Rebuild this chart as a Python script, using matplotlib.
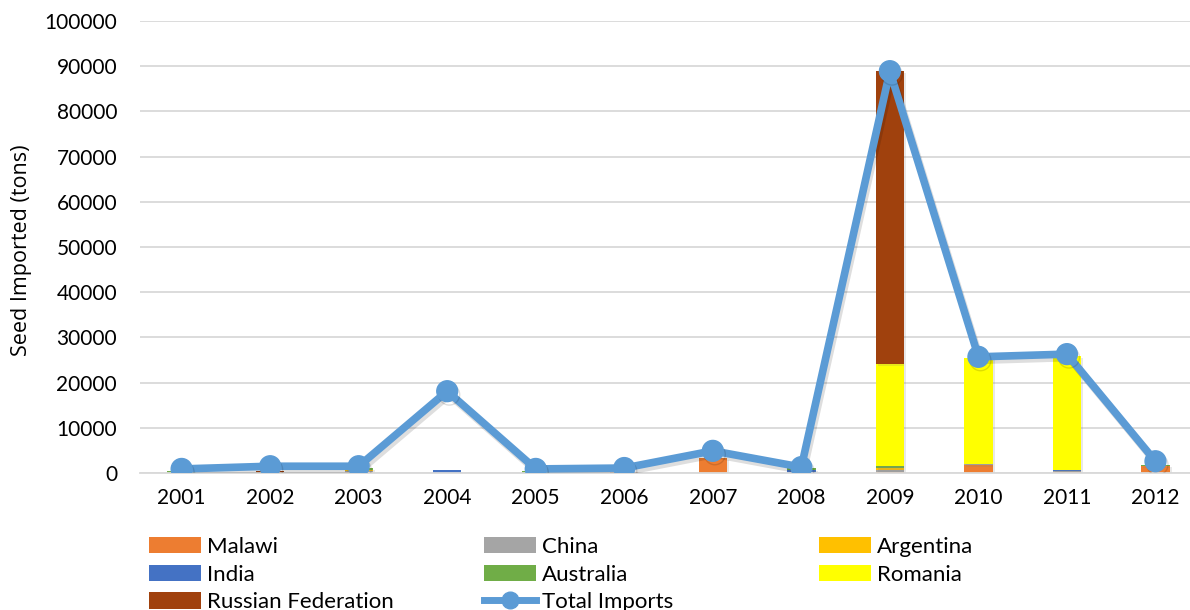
import matplotlib
matplotlib.use("Agg")
import matplotlib.pyplot as plt
import matplotlib.patheffects as pe
from matplotlib.patches import Patch
from matplotlib.lines import Line2D
import numpy as np

plt.rcParams['font.family'] = ['Lato', 'DejaVu Sans']

years = ["2001", "2002", "2003", "2004", "2005", "2006",
         "2007", "2008", "2009", "2010", "2011", "2012"]

# Seed imports by origin (tons)
malawi    = [0, 300, 300, 0, 0, 0, 3400, 0, 300, 1800, 200, 1500]
china     = [0, 0, 100, 0, 0, 100, 0, 100, 300, 300, 200, 0]
argentina = [0, 0, 200, 0, 0, 0, 0, 0, 600, 0, 0, 0]
india     = [100, 0, 0, 700, 0, 0, 0, 600, 0, 0, 200, 0]
australia = [300, 0, 600, 0, 500, 0, 0, 300, 300, 0, 0, 300]
romania   = [0, 0, 0, 0, 0, 0, 0, 0, 22600, 23300, 25300, 0]
russia    = [0, 200, 0, 0, 0, 200, 0, 0, 64900, 0, 0, 0]
total     = [900, 1500, 1500, 18100, 900, 1100, 4900, 1300, 88900, 25700, 26300, 2600]

series = [
    ("Malawi", malawi, "#ED7D31"),
    ("China", china, "#A5A5A5"),
    ("Argentina", argentina, "#FFC000"),
    ("India", india, "#4472C4"),
    ("Australia", australia, "#70AD47"),
    ("Romania", romania, "#FFFF00"),
    ("Russian Federation", russia, "#A0410D"),
]
line_color = "#5B9BD5"

fig = plt.figure(figsize=(11.9, 6.1), dpi=100)
ax = fig.add_axes([140 / 1190, 1 - 473 / 610, 1050 / 1190, 452 / 610])

x = np.arange(len(years))
bottom = np.zeros(len(years))
shadow = [pe.SimplePatchShadow(offset=(1.5, -1.5), alpha=0.18, shadow_rgbFace="#808080"), pe.Normal()]
for name, vals, col in series:
    v = np.array(vals, dtype=float)
    bars = ax.bar(x, v, 0.32, bottom=bottom, color=col, zorder=2)
    for b in bars:
        b.set_path_effects(shadow)
    bottom += v

ax.plot(x, total, color=line_color, lw=5.5, marker="o", markersize=15,
        zorder=4, solid_joinstyle="round",
        path_effects=[pe.SimpleLineShadow(offset=(1.5, -2.5), alpha=0.13), pe.Normal()])

ax.set_xlim(-0.47, 11.39)
ax.set_ylim(0, 100000)
ax.set_yticks(np.arange(0, 100001, 10000))
ax.set_xticks(x)
ax.set_xticklabels(years)
ax.grid(axis="y", color="#D9D9D9", lw=1.3, zorder=0)
ax.set_axisbelow(True)
for s in ["top", "right", "left"]:
    ax.spines[s].set_visible(False)
ax.spines["bottom"].set_color("#D9D9D9")
ax.spines["bottom"].set_linewidth(1.3)
ax.tick_params(axis="both", length=0, labelsize=15, colors="#000000")
ax.tick_params(axis="y", pad=16.5)
ax.tick_params(axis="x", pad=11)
ax.set_ylabel("Seed Imported (tons)", fontsize=15.5, family=["Open Sans", "DejaVu Sans"])
ax.yaxis.set_label_coords(-0.1025, 0.492)

# Legend laid out in three columns below the plot
handles = {name: Patch(facecolor=col) for name, _, col in series}
handles["Total Imports"] = Line2D([], [], color=line_color, lw=5, marker="o", markersize=12)
columns = [
    (149, ["Malawi", "India", "Russian Federation"]),
    (484, ["China", "Australia", "Total Imports"]),
    (819, ["Argentina", "Romania"]),
]
for xpix, names in columns:
    fig.legend([handles[n] for n in names], names,
               loc="upper left", bbox_to_anchor=(xpix / 1190, 1 - 537 / 610),
               frameon=False, fontsize=16, handlelength=2.34, handleheight=0.75,
               handletextpad=0.27, labelspacing=0.34, borderpad=0, borderaxespad=0)

fig.savefig("out.png", dpi=100)
